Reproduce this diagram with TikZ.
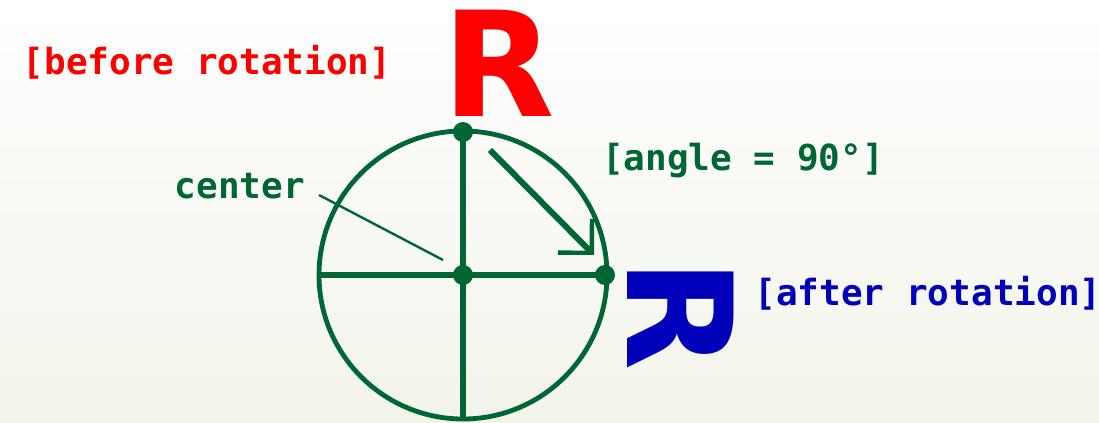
\documentclass[tikz,border=0pt]{standalone}
\usepackage{fontspec}
\usepackage{tikz}
\usetikzlibrary{arrows.meta,positioning}
\newfontfamily\pixfont{DejaVu Sans Mono}
\newfontfamily\bigfont{DejaVu Sans}
\definecolor{cGreen}{HTML}{006633}
\definecolor{cRed}{HTML}{FF0000}
\definecolor{cBlue}{HTML}{0000BB}
\definecolor{cBack}{HTML}{F2F4EA}
\tikzset{
  lbl/.style={font=\pixfont\bfseries\fontsize{18}{22}\selectfont, text=#1, inner sep=0pt, anchor=base},
  glyph/.style={font=\bigfont\bfseries\fontsize{73}{80}\selectfont, text=#1, inner sep=0pt},
  axis/.style={draw=cGreen, line width=3pt},
  rim/.style={draw=cGreen, line width=2.4pt},
  dot/.style={circle, fill=cGreen, inner sep=0pt, minimum size=10pt},
  turn/.style={draw=cGreen, line width=3pt, -{Straight Barb[angle=90:17pt, line width=2.2pt]}},
  ptr/.style={draw=cGreen, line width=1.2pt},
}
\begin{document}
\begin{tikzpicture}[x=0.5pt, y=-0.5pt]
  \shade[top color=white, bottom color=cBack] (0,0) rectangle (1099,423);
  \useasboundingbox (0,0) rectangle (1099,423);
  % circle, its two axes and the three points
  \coordinate (lft) at (319,275);
  \coordinate (bot) at (463,420);
  \draw[rim] (463,275) circle[radius=144];
  \draw[axis] (463,132) -- (bot);
  \draw[axis] (lft) -- (605,275);
  \node[dot] (top) at (463,132) {};
  \node[dot] (mid) at (463,275) {};
  \node[dot] (rgt) at (605,275) {};
  % the quarter turn
  \coordinate (a0) at (490,150);
  \coordinate (a1) at (594,255);
  \draw[turn] (a0) -- (a1);
  % pointer to the centre
  \coordinate (p0) at (319,195);
  \coordinate (p1) at (443,260);
  \draw[ptr] (p0) -- (p1);
  % the letter before and after
  \node[glyph=cRed, anchor=base] (rOld) at (499,116) {R};
  \node[glyph=cBlue, rotate=-90] (rNew) at (681,315) {R};
  % labels
  \node[lbl=cRed] (before) at (207,75) {[before rotation]};
  \node[lbl=cGreen] (ctr) at (240,198) {center};
  \node[lbl=cGreen] (ang) at (743,170) {[angle = 90°]};
  \node[lbl=cBlue] (after) at (928,305) {[after rotation]};
\end{tikzpicture}
\end{document}
